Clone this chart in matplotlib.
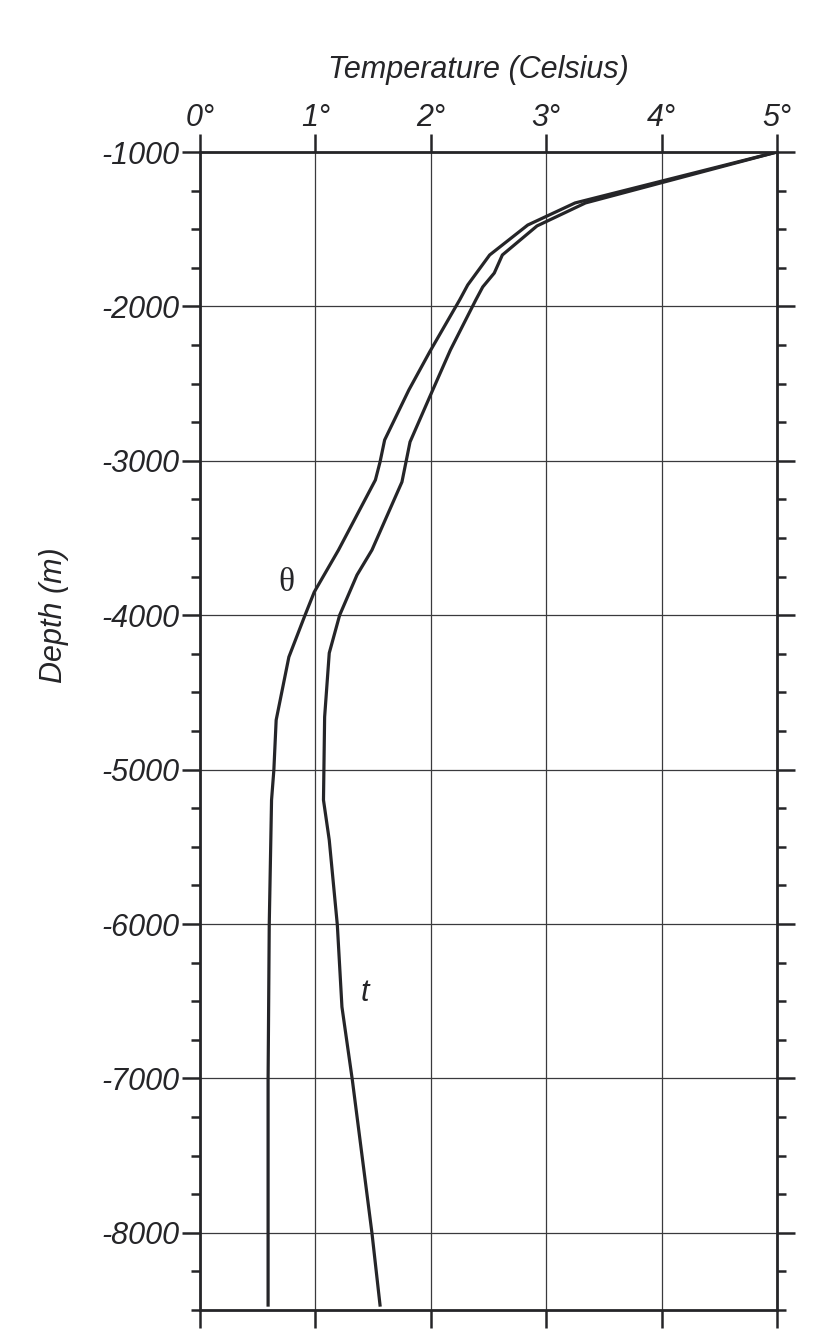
import matplotlib.pyplot as plt
from matplotlib.ticker import MultipleLocator

# -----------------
# DATA
# -----------------
theta_temp = [5.00, 3.25, 2.84, 2.51, 2.32, 2.25, 1.99, 1.81, 1.60, 1.56, 1.52,
              1.20, 0.99, 0.91, 0.77, 0.66, 0.64, 0.62, 0.60, 0.59, 0.59]
theta_depth = [-1000, -1330, -1473, -1667, -1861, -1958, -2295, -2541, -2865,
               -3008, -3124, -3578, -3850, -4000, -4271, -4679, -5003, -5197,
               -6006, -7010, -8468]

t_temp = [5.00, 3.34, 2.92, 2.62, 2.55, 2.45, 2.39, 2.17, 1.99, 1.82, 1.75,
          1.49, 1.36, 1.21, 1.12, 1.08, 1.07, 1.12, 1.19, 1.23, 1.32, 1.49, 1.56]
t_depth = [-1000, -1330, -1479, -1667, -1784, -1874, -1958, -2282, -2587,
           -2878, -3137, -3578, -3740, -4000, -4245, -4659, -5197, -5456,
           -6006, -6537, -7010, -8001, -8468]

x_ticks = [0, 1, 2, 3, 4, 5]
x_tick_labels = ['0°', '1°', '2°', '3°', '4°', '5°']
y_ticks = [-1000, -2000, -3000, -4000, -5000, -6000, -7000, -8000]

# -----------------
# FIGURE
# -----------------
ink = '#252528'
plt.rcParams['font.family'] = ['Liberation Sans', 'DejaVu Sans']

fig = plt.figure(figsize=(8.38, 13.38), dpi=100)
ax = fig.add_axes([200 / 838, 1 - 1310 / 1338, 577 / 838, 1158 / 1338])

ax.plot(theta_temp, theta_depth, color=ink, lw=2.3, solid_joinstyle='miter')
ax.plot(t_temp, t_depth, color=ink, lw=2.3, solid_joinstyle='miter')

ax.set_xlim(0, 5)
ax.set_ylim(-8500, -1000)

ax.set_xticks(x_ticks)
ax.set_xticklabels(x_tick_labels, fontsize=22, style='italic')
ax.set_yticks(y_ticks)
ax.set_yticklabels([str(v) for v in y_ticks], fontsize=22, style='italic')
ax.yaxis.set_minor_locator(MultipleLocator(250))

ax.xaxis.set_ticks_position('both')
ax.xaxis.set_label_position('top')
ax.tick_params(axis='x', which='major', top=True, bottom=True,
               labeltop=True, labelbottom=False, direction='out',
               length=13, width=1.8, color=ink, labelcolor=ink, pad=0.5)
ax.tick_params(axis='y', which='major', left=True, right=True,
               direction='out', length=13, width=1.8, color=ink,
               labelcolor=ink, pad=1.5)
ax.tick_params(axis='y', which='minor', left=True, right=True,
               direction='out', length=6.5, width=1.8, color=ink)

ax.grid(True, which='major', color='#3a3a3d', lw=0.9)
for side in ax.spines.values():
    side.set_color(ink)
    side.set_linewidth(2.0)

ax.text(0.75, -3790, 'θ', fontsize=24, family=['Liberation Serif', 'DejaVu Serif'],
        color=ink, ha='center', va='center')
ax.text(1.43, -6447, 't', fontsize=22, style='italic', color=ink,
        ha='center', va='center')

fig.text(478 / 838, 1 - 70 / 1338, 'Temperature (Celsius)', fontsize=22,
         style='italic', color=ink, ha='center', va='center')
fig.text(54 / 838, 1 - 615 / 1338, 'Depth (m)', fontsize=22, style='italic',
         color=ink, ha='center', va='center', rotation=90)

fig.savefig('out.png', dpi=100, facecolor='white')
